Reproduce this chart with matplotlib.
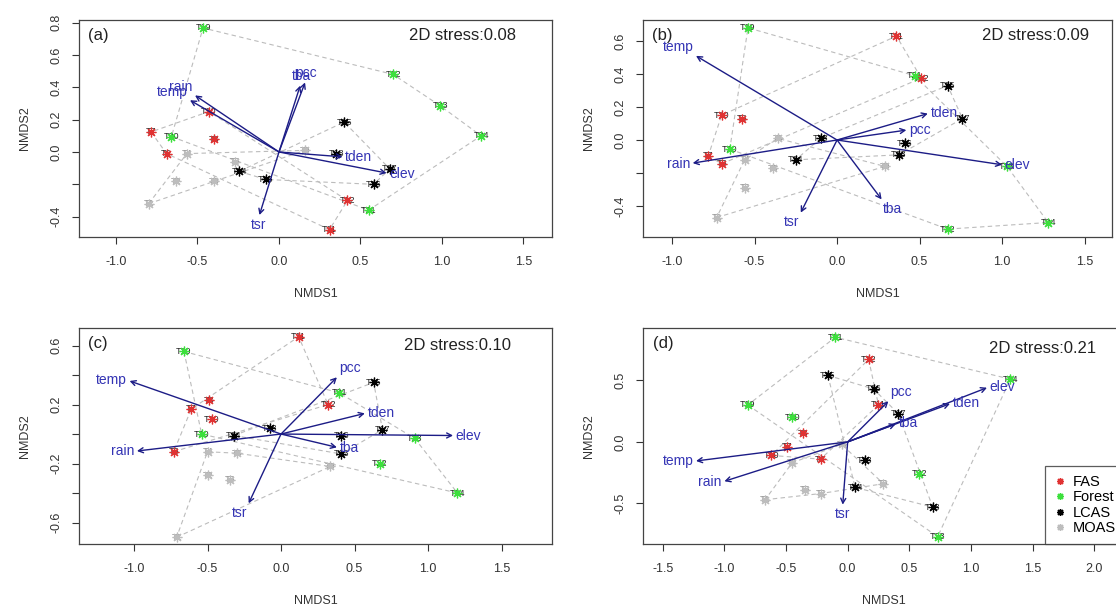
import numpy as np
import matplotlib
matplotlib.use("Agg")
import matplotlib.pyplot as plt

plt.rcParams['font.family'] = ['Liberation Sans', 'DejaVu Sans']

SITES = ["T%d" % i for i in range(1, 25)]
GROUP = (["MOAS"] * 5 + ["FAS"] * 3 + ["MOAS"] + ["FAS"] * 3
         + ["LCAS"] * 6 + ["Forest"] * 6)
GROUP_NAMES = ["FAS", "Forest", "LCAS", "MOAS"]
GROUP_COLS = {"FAS": "#e03232", "Forest": "#3ce03c", "LCAS": "#000000", "MOAS": "#bdbdbd"}

VARS = ["temp", "rain", "tsr", "pcc", "tba", "tden", "elev"]

# site scores, T1..T24
A_X = [-0.80, -0.63, -0.40, -0.565, -0.27, -0.69, -0.785, -0.40, 0.16, -0.43, 0.31, 0.42,
       -0.08, -0.245, 0.40, 0.58, 0.68, 0.35, -0.466, -0.66, 0.55, 0.70, 0.99, 1.24]
A_Y = [-0.32, -0.18, -0.18, -0.01, -0.06, -0.01, 0.124, 0.08, 0.01, 0.25, -0.48, -0.30,
       -0.17, -0.12, 0.185, -0.20, -0.105, -0.01, 0.767, 0.095, -0.36, 0.48, 0.285, 0.10]
B_X = [-0.73, -0.56, -0.39, -0.56, -0.36, -0.70, -0.78, -0.575, 0.29, -0.70, 0.36, 0.51,
       0.375, -0.25, 0.67, 0.41, 0.76, -0.10, -0.54, -0.65, 0.47, 0.67, 1.03, 1.28]
B_Y = [-0.47, -0.29, -0.17, -0.12, 0.01, -0.145, -0.095, 0.13, -0.16, 0.15, 0.63, 0.375,
       -0.09, -0.12, 0.33, -0.02, 0.13, 0.01, 0.68, -0.055, 0.39, -0.54, -0.16, -0.50]
C_X = [-0.71, -0.50, -0.35, -0.50, -0.30, -0.73, -0.61, -0.49, 0.335, -0.47, 0.12, 0.32,
       0.41, -0.32, 0.63, 0.41, 0.69, -0.075, -0.66, -0.54, 0.395, 0.67, 0.91, 1.20]
C_Y = [-0.70, -0.28, -0.31, -0.12, -0.13, -0.12, 0.17, 0.23, -0.22, 0.10, 0.66, 0.20,
       -0.135, -0.01, 0.35, -0.01, 0.03, 0.04, 0.56, 0.0, 0.28, -0.20, -0.03, -0.40]
D_X = [-0.67, -0.22, -0.35, -0.45, -0.05, -0.22, -0.49, -0.36, 0.29, -0.62, 0.25, 0.17,
       0.14, 0.06, -0.16, 0.21, 0.41, 0.69, -0.81, -0.45, -0.10, 0.58, 0.73, 1.32]
D_Y = [-0.47, -0.42, -0.39, -0.17, -0.02, -0.14, -0.04, 0.07, -0.34, -0.11, 0.30, 0.67,
       -0.15, -0.37, 0.54, 0.43, 0.23, -0.53, 0.30, 0.20, 0.85, -0.26, -0.77, 0.51]

# envfit vectors: temp, rain, tsr, pcc, tba, tden, elev
A_VX = [-0.546, -0.515, -0.12, 0.16, 0.13, 0.39, 0.66]
A_VY = [0.32, 0.35, -0.39, 0.43, 0.41, -0.03, -0.13]
B_VX = [-0.855, -0.875, -0.22, 0.42, 0.27, 0.55, 1.0]
B_VY = [0.51, -0.14, -0.44, 0.06, -0.36, 0.16, -0.15]
C_VX = [-1.03, -0.98, -0.22, 0.38, 0.38, 0.57, 1.17]
C_VY = [0.36, -0.115, -0.47, 0.385, -0.09, 0.14, -0.01]
D_VX = [-1.23, -1.0, -0.04, 0.33, 0.39, 0.83, 1.13]
D_VY = [-0.155, -0.32, -0.51, 0.33, 0.145, 0.31, 0.44]

STRESS = ["0.08", "0.09", "0.10", "0.21"]
LETTERS = ["(a)", "(b)", "(c)", "(d)"]

ARROW_COL = "#1c1c86"
LABEL_COL = "#3434b4"
HULL_COL = "#bcbcbc"


def hull(pts):
    pts = sorted(set(pts))
    if len(pts) < 3:
        return pts

    def cross(o, a, b):
        return (a[0] - o[0]) * (b[1] - o[1]) - (a[1] - o[1]) * (b[0] - o[0])

    lower, upper = [], []
    for p in pts:
        while len(lower) >= 2 and cross(lower[-2], lower[-1], p) <= 0:
            lower.pop()
        lower.append(p)
    for p in reversed(pts):
        while len(upper) >= 2 and cross(upper[-2], upper[-1], p) <= 0:
            upper.pop()
        upper.append(p)
    return lower[:-1] + upper[:-1]


def panel(fig, rect, xs, ys, vx, vy, xlim, ylim, xticks, yticks, ylabels,
          letter, stress, stress_pos, show_legend=False):
    ax = fig.add_axes(rect)
    ax.set_xlim(xlim)
    ax.set_ylim(ylim)

    # dashed hulls around each land-use group
    for g in GROUP_NAMES:
        pts = [(x, y) for x, y, gg in zip(xs, ys, GROUP) if gg == g]
        h = hull(pts)
        h = h + [h[0]]
        ax.plot([p[0] for p in h], [p[1] for p in h], ls=(0, (4, 3)),
                color=HULL_COL, lw=0.8, zorder=1)

    # site labels with asterisk markers on top
    for name, x, y, g in zip(SITES, xs, ys, GROUP):
        tcol = "#8c8c8c" if g == "MOAS" else "#222222"
        ax.text(x, y, name, fontsize=6.5, ha="center", va="center", color=tcol, zorder=2)
        ax.plot(x, y, marker=(8, 2, 0), ms=7, mew=0.9, color=GROUP_COLS[g],
                ls="none", zorder=3)

    # environmental vectors
    for name, x, y in zip(VARS, vx, vy):
        ax.annotate("", xy=(x, y), xytext=(0, 0),
                    arrowprops=dict(arrowstyle="->,head_length=0.35,head_width=0.18",
                                    color=ARROW_COL, lw=1.0, shrinkA=0, shrinkB=0),
                    zorder=4)
        L = np.hypot(x, y)
        c, s = x / L, y / L
        ha = "left" if c > 0.4 else ("right" if c < -0.4 else "center")
        va = "bottom" if s > 0.4 else ("top" if s < -0.4 else "center")
        ax.annotate(name, xy=(x, y), xytext=(c * 2, s * 2), textcoords="offset points",
                    ha=ha, va=va, fontsize=10, color=LABEL_COL, zorder=5)

    ax.text(0.02, 0.93, letter, transform=ax.transAxes, fontsize=12,
            ha="left", va="center", color="#222222")
    ax.text(stress_pos[0], stress_pos[1], "2D stress:" + stress, transform=ax.transAxes,
            fontsize=12, ha="right", va="center", color="#222222")

    ax.set_xticks(xticks)
    ax.set_xticklabels(["%.1f" % t for t in xticks], fontsize=9, color="#333333")
    ax.set_yticks(yticks)
    ax.set_yticklabels(ylabels, fontsize=9, rotation=90, va="center", color="#333333")
    ax.tick_params(direction="out", length=5, width=0.8, pad=7, colors="#333333",
                   labelcolor="#333333")
    ax.tick_params(axis="x", pad=9)
    ax.set_xlabel("NMDS1", fontsize=9, color="#333333", labelpad=14)
    ax.set_ylabel("NMDS2", fontsize=9, color="#333333", labelpad=14)
    for sp in ax.spines.values():
        sp.set_color("#444444")
        sp.set_linewidth(0.9)

    if show_legend:
        handles = [plt.Line2D([], [], marker=(8, 2, 0), ls="none", ms=5, mew=1.0,
                              color=GROUP_COLS[g]) for g in GROUP_NAMES]
        leg = ax.legend(handles, GROUP_NAMES, loc="lower right", fontsize=10.5,
                        frameon=True, fancybox=False, borderaxespad=0,
                        handlelength=0.8, handletextpad=0.5, labelspacing=0.1,
                        borderpad=0.6)
        leg.get_frame().set_edgecolor("#333333")
        leg.get_frame().set_linewidth(0.9)
    return ax


fig = plt.figure(figsize=(11.16, 6.15), dpi=100)

panel(fig, [0.0708, 0.6146, 0.4238, 0.3528], A_X, A_Y, A_VX, A_VY,
      (-1.227, 1.675), (-0.526, 0.816),
      [-1.0, -0.5, 0.0, 0.5, 1.0, 1.5],
      [-0.4, -0.2, 0.0, 0.2, 0.4, 0.6, 0.8],
      ["-0.4", "", "0.0", "0.2", "0.4", "0.6", "0.8"],
      LETTERS[0], STRESS[0], (0.924, 0.931))
panel(fig, [0.5762, 0.6146, 0.4203, 0.3528], B_X, B_Y, B_VX, B_VY,
      (-1.176, 1.667), (-0.588, 0.727),
      [-1.0, -0.5, 0.0, 0.5, 1.0, 1.5],
      [-0.4, -0.2, 0.0, 0.2, 0.4, 0.6],
      ["-0.4", "", "0.0", "0.2", "0.4", "0.6"],
      LETTERS[1], STRESS[1], (0.951, 0.931))
panel(fig, [0.0708, 0.1154, 0.4238, 0.3512], C_X, C_Y, C_VX, C_VY,
      (-1.374, 1.843), (-0.746, 0.719),
      [-1.0, -0.5, 0.0, 0.5, 1.0, 1.5],
      [-0.6, -0.4, -0.2, 0.0, 0.2, 0.4, 0.6],
      ["-0.6", "", "-0.2", "", "0.2", "", "0.6"],
      LETTERS[2], STRESS[2], (0.913, 0.921))
panel(fig, [0.5762, 0.1154, 0.4319, 0.3512], D_X, D_Y, D_VX, D_VY,
      (-1.66, 2.25), (-0.83, 0.925),
      [-1.5, -1.0, -0.5, 0.0, 0.5, 1.0, 1.5, 2.0],
      [-0.5, 0.0, 0.5],
      ["-0.5", "0.0", "0.5"],
      LETTERS[3], STRESS[3], (0.94, 0.907), show_legend=True)

fig.savefig("out.png", dpi=100)
